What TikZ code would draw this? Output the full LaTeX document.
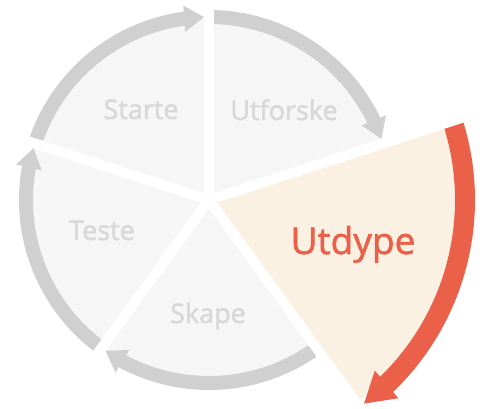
\documentclass[tikz,border=0pt]{standalone}
\usepackage{fontspec}
\setmainfont{Open Sans}
\newfontfamily\phasefont{Open Sans}[FakeBold=1.6]
\usetikzlibrary{arrows.meta,bending}
\definecolor{sectgray}{HTML}{F6F6F6}
\definecolor{arcgray}{HTML}{D0D0D0}
\definecolor{textgray}{HTML}{D8D8D8}
\definecolor{activefill}{HTML}{FBF1E2}
\definecolor{activered}{HTML}{EA6049}
\tikzset{
  phaselabel/.style={text=textgray,anchor=base,font=\phasefont\fontsize{27}{30}\selectfont},
  activelabel/.style={text=activered,anchor=base,font=\phasefont\fontsize{37}{40}\selectfont},
  grayarc/.style={arcgray,line width=14pt,-{Triangle[width=25pt,length=20pt]}}
}
\begin{document}
\begin{tikzpicture}[x=1pt,y=1pt]
              \useasboundingbox (-209,-209) rectangle (276,200);
              % sectors
              \foreach \a in {18,90,162,234} \fill[sectgray] (0,0) -- (\a:183) arc[start angle=\a,end angle=\a+72,radius=183pt] -- cycle;
              \fill[activefill] (0,0) -- (-54:250) arc[start angle=-54,end angle=18,radius=250pt] -- cycle;
              % arrows, clockwise
              \foreach \a in {18,90,162,234} \draw[grayarc] (\a+72:183) arc[start angle=\a+72,end angle=\a+1.5,radius=183pt];
              \draw[activered,line width=20pt,-{Triangle[width=34pt,length=30pt]}] (18:256) arc[start angle=18,end angle=-52.8,radius=256pt];
              % gaps
              \foreach \a in {18,90,162,234,306} \draw[white,line width=10pt] (0,0) -- (\a:285);
              \node[phaselabel](starte)at(-68,81){Starte};
              \node[phaselabel](utforske)at(75,80){Utforske};
              \node[activelabel](utdype)at(144,-54){Utdype};
              \node[phaselabel](skape)at(-1,-123){Skape};
              \node[phaselabel](teste)at(-107,-40){Teste};
            \end{tikzpicture}
\end{document}
